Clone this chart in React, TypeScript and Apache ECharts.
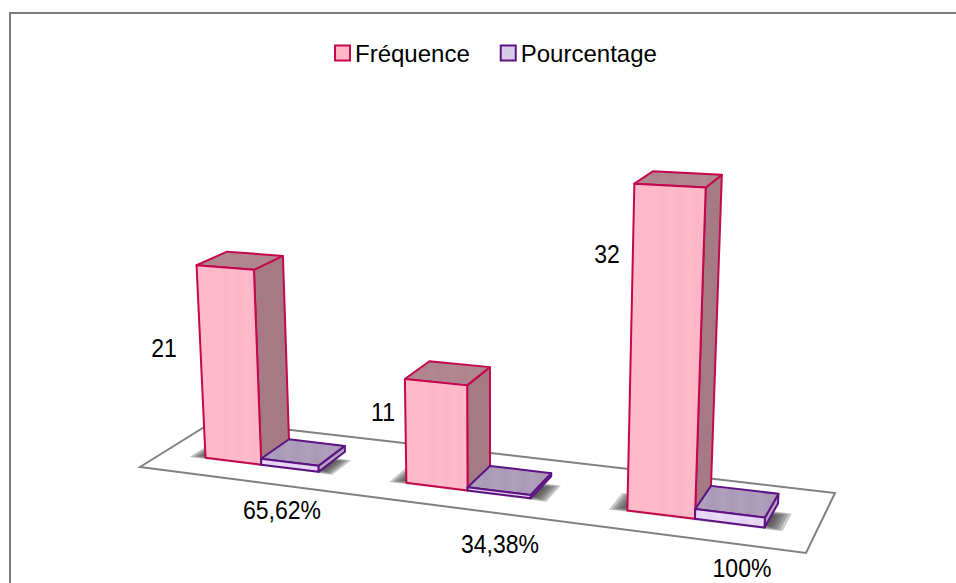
import React, { useEffect, useRef } from "react";
import * as echarts from "echarts";

const categories = ["A", "B", "C"];
const frequence = [21, 11, 32];
const pourcentage = [0.6562, 0.3438, 1];
const pourcentageLabels = ["65,62%", "34,38%", "100%"];
const legendNames = ["Fréquence", "Pourcentage"];

const W = 956;
const H = 583;
const FONT = '"Liberation Sans", Arial, sans-serif';
const Y_MAX = 32;

// perspective: floor corners (front-left, front-right, back-right, back-left) + vertical vanishing point
const FL = [140, 467], FR = [806, 553], BR = [835, 493], BL = [214, 421];
const VP = [495, 6670];
const K = -0.00145;
const V_FRONT = 0.3;
const V_BACK = 0.71;
const BAR_FRAC = 0.287;
const U_SHIFT = 0.003;
const SHADOW_LAYERS = 7;

function homography() {
  const dx1 = FR[0] - BR[0], dx2 = BL[0] - BR[0], sx = FL[0] - FR[0] + BR[0] - BL[0];
  const dy1 = FR[1] - BR[1], dy2 = BL[1] - BR[1], sy = FL[1] - FR[1] + BR[1] - BL[1];
  const den = dx1 * dy2 - dx2 * dy1;
  const g = (sx * dy2 - dx2 * sy) / den;
  const h = (dx1 * sy - sx * dy1) / den;
  return {
    a: FR[0] - FL[0] + g * FR[0], b: BL[0] - FL[0] + h * BL[0], c: FL[0],
    d: FR[1] - FL[1] + g * FR[1], e: BL[1] - FL[1] + h * BL[1], f: FL[1],
    g, h,
  };
}
const M = homography();
function project(u: number, v: number, val: number): number[] {
  const t = K * val;
  const X = M.a * u + M.b * v + M.c + t * VP[0];
  const Y = M.d * u + M.e * v + M.f + t * VP[1];
  const Z = M.g * u + M.h * v + 1 + t;
  return [X / Z, Y / Z];
}

function stripes(base: string, alt: string) {
  const colorStops: { offset: number; color: string }[] = [];
  const n = 9;
  for (let i = 0; i <= n; i++) colorStops.push({ offset: i / n, color: i % 2 ? alt : base });
  return { type: "linear", x: 0, y: 0, x2: 1, y2: 0, colorStops };
}

function box(u0: number, u1: number, val: number, c: any) {
  const base = (u: number, v: number) => project(u, v, 0);
  const top = (u: number, v: number) => project(u, v, val);
  const stroke = { stroke: c.border, lineWidth: 2, lineJoin: "round" };
  return [
    { type: "polygon", silent: true, shape: { points: [base(u1, V_FRONT), base(u1, V_BACK), top(u1, V_BACK), top(u1, V_FRONT)] }, style: { fill: c.side, ...stroke } },
    { type: "polygon", silent: true, shape: { points: [top(u0, V_FRONT), top(u1, V_FRONT), top(u1, V_BACK), top(u0, V_BACK)] }, style: { fill: stripes(c.top, c.topAlt), ...stroke } },
    { type: "polygon", silent: true, shape: { points: [base(u0, V_FRONT), base(u1, V_FRONT), top(u1, V_FRONT), top(u0, V_FRONT)] }, style: { fill: stripes(c.front, c.frontAlt), ...stroke } },
  ];
}

const pink = { front: "#FFB6C6", frontAlt: "#FFBBC9", side: "#A67A85", top: "#AE858F", topAlt: "#B1888F", border: "#C4084F" };
const purple = { front: "#E4D2F2", frontAlt: "#E9DAF5", side: "#B3A3C0", top: "#A998B6", topAlt: "#B0A0BC", border: "#5D1283" };

function uv(api: any, idx: number, value: number) {
  const p = api.coord([idx, value]);
  const band = api.size([1, 0])[0];
  return { u: p[0] / W + U_SHIFT, h: ((H - p[1]) / H) * Y_MAX, band: band / W };
}

function barSeries(name: string, values: number[], side: -1 | 1, colors: any) {
  return {
    name,
    type: "custom",
    coordinateSystem: "cartesian2d",
    clip: false,
    silent: true,
    z: 3,
    itemStyle: { color: colors.front, borderColor: colors.border, borderWidth: 2 },
    data: values.map((v, i) => [i, v]),
    renderItem: (_: any, api: any) => {
      const { u, h, band } = uv(api, api.value(0), api.value(1));
      const w = band * BAR_FRAC;
      const [u0, u1] = side < 0 ? [u - w, u] : [u, u + w];
      return { type: "group", children: box(u0, u1, h, colors) };
    },
  };
}

export default function App() {
  const ref = useRef<HTMLDivElement>(null);
  useEffect(() => {
    const chart = echarts.init(ref.current!, undefined, { renderer: "svg" });
    const labelPositions = [[164, 348], [383, 412], [607, 254]];
    const pctPositions = [[282, 510], [500, 544], [742, 568]];
    const text = (t: string, p: number[]) => ({
      type: "text",
      silent: true,
      x: p[0],
      y: p[1],
      scaleX: 0.885,
      style: { text: t, x: 0, y: 0, fill: "#000", font: `26px ${FONT}`, textAlign: "center", textVerticalAlign: "middle" },
    });
    chart.setOption({
      animation: false,
      backgroundColor: "#fff",
      grid: { left: 0, top: 0, width: W, height: H, show: false },
      xAxis: { type: "category", data: categories, show: false },
      yAxis: { type: "value", min: 0, max: Y_MAX, show: false },
      legend: {
        left: 334,
        top: 41,
        padding: 0,
        itemWidth: 15,
        itemHeight: 15,
        itemGap: 30,
        icon: "rect",
        selectedMode: false,
        textStyle: { fontFamily: FONT, fontSize: 24, color: "#000" },
        data: [
          { name: legendNames[0], itemStyle: { color: pink.front, borderColor: pink.border, borderWidth: 2 } },
          { name: legendNames[1], itemStyle: { color: "#D9CCE6", borderColor: purple.border, borderWidth: 2 } },
        ],
      },
      graphic: [
        { type: "polyline", silent: true, shape: { points: [[W, 13], [10, 13], [10, H]] }, style: { stroke: "#7A7A7A", lineWidth: 2, fill: "none" } },
        ...frequence.map((v, i) => text(String(v), labelPositions[i])),
        ...pourcentageLabels.map((t, i) => text(t, pctPositions[i])),
      ],
      series: [
        {
          type: "custom",
          name: "floor",
          coordinateSystem: "cartesian2d",
          clip: false,
          silent: true,
          z: 1,
          data: [[0, 0]],
          renderItem: () => ({
            type: "polygon",
            silent: true,
            shape: { points: [project(0, 0, 0), project(1, 0, 0), project(1, 1, 0), project(0, 1, 0)] },
            style: { fill: "#fff", stroke: "#808080", lineWidth: 2 },
          }),
        },
        {
          type: "custom",
          name: "shadow",
          coordinateSystem: "cartesian2d",
          clip: false,
          silent: true,
          z: 2,
          data: categories.map((_, i) => [i, 0]),
          renderItem: (_: any, api: any) => {
            const { u, band } = uv(api, api.value(0), 0);
            const w = band * BAR_FRAC;
            const children: any[] = [];
            for (let k = SHADOW_LAYERS - 1; k >= 0; k--) {
              const du = 0.0042 * k;
              const dv = 0.012 * k;
              children.push({
                type: "polygon",
                silent: true,
                shape: {
                  points: [
                    project(u - w - du, V_FRONT + 0.05 - dv, 0),
                    project(u + w + du, V_FRONT + 0.05 - dv, 0),
                    project(u + w + du, V_FRONT + 0.2 + dv, 0),
                    project(u - w - du, V_FRONT + 0.2 + dv, 0),
                  ],
                },
                style: { fill: "#404040", opacity: 0.28 },
              });
            }
            return { type: "group", children };
          },
        },
        barSeries(legendNames[0], frequence, -1, pink),
        barSeries(legendNames[1], pourcentage, 1, purple),
      ],
    });
    return () => chart.dispose();
  }, []);
  return <div ref={ref} style={{ position: "absolute", left: 0, top: 0, width: W, height: H }} />;
}
